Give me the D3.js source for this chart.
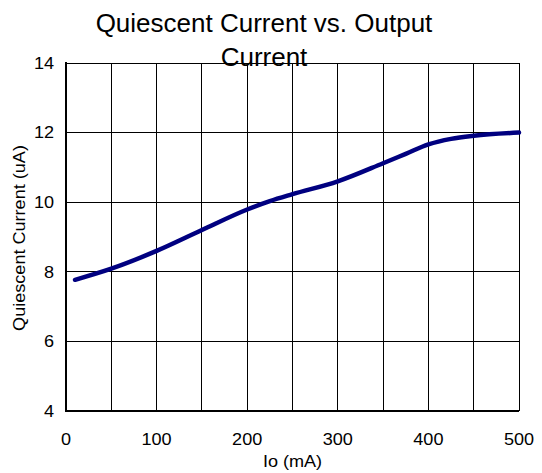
<!DOCTYPE html>
<html><head><meta charset="utf-8">
<script src="https://cdn.jsdelivr.net/npm/d3@7"></script>
<style>body{margin:0;background:#fff}svg{display:block}text{font-family:"Liberation Sans",Arial,sans-serif;fill:#000}</style>
</head><body>
<script>
const io = [10, 50, 100, 150, 200, 225, 250, 300, 350, 375, 400, 425, 450, 500];
const iq = [7.77, 8.09, 8.6, 9.2, 9.79, 10.03, 10.23, 10.6, 11.12, 11.39, 11.66, 11.82, 11.91, 12.0];
const xTicks = [0, 100, 200, 300, 400, 500];
const xGrid = [0, 50, 100, 150, 200, 250, 300, 350, 400, 450, 500];
const yTicks = [4, 6, 8, 10, 12, 14];
const titleLines = ["Quiescent Current vs. Output", "Current"];
const xLabel = "Io (mA)";
const yLabel = "Quiescent Current (uA)";

const W = 542, H = 473;
const L = 66, R = 519, T = 63, B = 411;
const SX = 1.13, FS = 16;
const svg = d3.select("body").append("svg").attr("width", W).attr("height", H);
const x = d3.scaleLinear().domain([0, 500]).range([L, R]);
const y = d3.scaleLinear().domain([4, 14]).range([B, T]);

// grid
svg.append("g").selectAll("line").data(xGrid).join("line")
  .attr("x1", d => x(d)).attr("x2", d => x(d)).attr("y1", T).attr("y2", B)
  .attr("stroke", "#000").attr("stroke-width", 1).attr("shape-rendering", "crispEdges");
svg.append("g").selectAll("line").data(yTicks).join("line")
  .attr("x1", L).attr("x2", R).attr("y1", d => y(d)).attr("y2", d => y(d))
  .attr("stroke", "#000").attr("stroke-width", 1).attr("shape-rendering", "crispEdges");

// axes (thicker left/bottom)
svg.append("line").attr("x1", L).attr("x2", L).attr("y1", T - 1).attr("y2", B + 1)
  .attr("stroke", "#000").attr("stroke-width", 2);
svg.append("line").attr("x1", L).attr("x2", R).attr("y1", B).attr("y2", B)
  .attr("stroke", "#000").attr("stroke-width", 2);

// tick labels
svg.append("g").selectAll("text").data(yTicks).join("text")
  .attr("transform", d => `translate(54,${y(d)}) scale(${SX},1)`).attr("dy", "0.36em")
  .attr("text-anchor", "end").attr("font-size", FS).text(d => d);
svg.append("g").selectAll("text").data(xTicks).join("text")
  .attr("transform", d => `translate(${x(d)},445) scale(${SX},1)`)
  .attr("text-anchor", "middle").attr("font-size", FS).text(d => d);

// axis titles
svg.append("text").attr("transform", `translate(${x(250)},467) scale(${SX},1)`).attr("text-anchor", "middle")
  .attr("font-size", FS).text(xLabel);
svg.append("text").attr("transform", `translate(25,238) rotate(-90) scale(${SX},1)`)
  .attr("text-anchor", "middle").attr("font-size", FS).text(yLabel);

// title
svg.append("g").selectAll("text").data(titleLines).join("text")
  .attr("x", 264).attr("y", (d, i) => 32 + i * 34)
  .attr("text-anchor", "middle").attr("font-size", 26).text(d => d);

// curve
const line = d3.line().x((d, i) => x(io[i])).y(d => y(d)).curve(d3.curveMonotoneX);
svg.append("path").datum(iq).attr("d", line).attr("fill", "none")
  .attr("stroke", "#000080").attr("stroke-width", 4.5).attr("stroke-linecap", "round");
</script>
</body></html>
